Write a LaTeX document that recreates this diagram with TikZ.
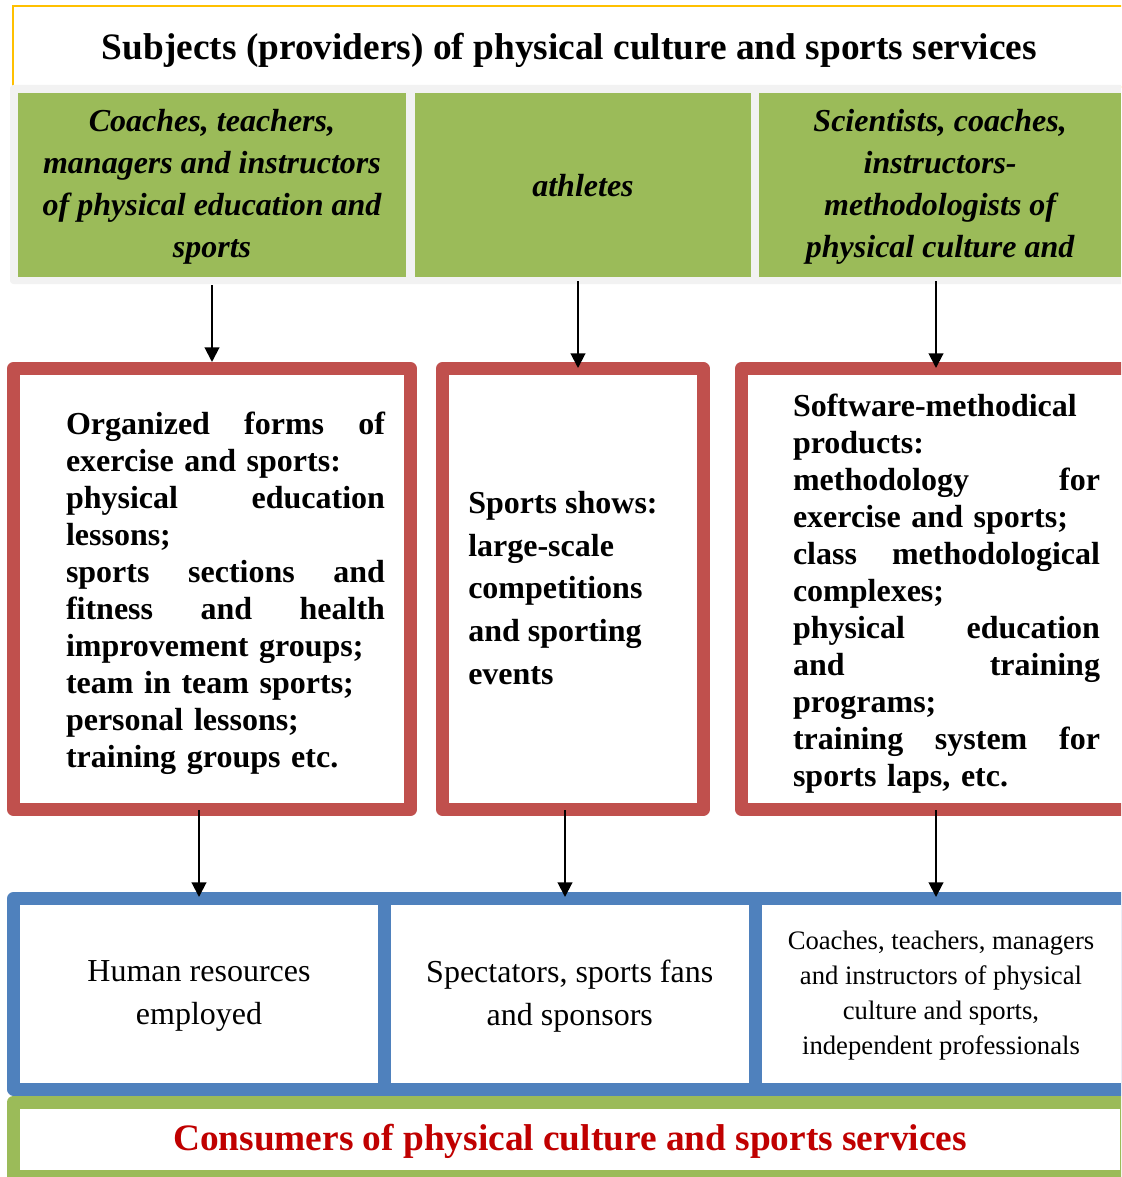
\documentclass[tikz,border=0pt]{standalone}
\usepackage{fontspec}
\setmainfont{Liberation Serif}
\usetikzlibrary{arrows.meta}
\definecolor{titleyellow}{HTML}{FFC000}
\definecolor{bandgrey}{HTML}{F2F2F2}
\definecolor{provgreen}{HTML}{9BBB59}
\definecolor{prodred}{HTML}{C0504D}
\definecolor{consblue}{HTML}{4F81BD}
\definecolor{consred}{HTML}{C00000}
% a line spread to a given width, the gaps between words stretched evenly
\newlength{\jw}
\newcommand{\jl}[1]{\leavevmode\hbox to \jw{\spaceskip=0.25em plus 1fil\relax #1}}
\begin{document}
\begin{tikzpicture}[x=0.75pt,y=-0.75pt,
  titlebox/.style={draw=titleyellow, line width=1.5pt, fill=white, inner sep=0pt,
    font=\fontsize{28}{33}\selectfont\bfseries},
  band/.style={fill=bandgrey, rounded corners=2.5pt, inner sep=0pt},
  greenbox/.style={fill=provgreen, inner sep=0pt, align=center,
    font=\fontsize{24}{31.5}\selectfont\bfseries\itshape},
  redbox/.style={draw=prodred, line width=9.75pt, line join=round, fill=white, inner sep=0pt},
  redtext/.style={inner sep=0pt, align=left, font=\fontsize{24}{27.75}\selectfont\bfseries},
  bluebox/.style={draw=consblue, line width=9.75pt, line join=round, fill=white, inner sep=0pt,
    align=center, font=\fontsize{24}{32.25}\selectfont},
  consbox/.style={draw=provgreen, line width=9.75pt, line join=round, fill=white, inner sep=0pt,
    text=consred, font=\fontsize{28}{33}\selectfont\bfseries},
  arr/.style={line width=1.5pt, -{Triangle[width=11pt,length=11pt]}},
]
\clip (0,0) rectangle (1121,1177);

% providers
\node[titlebox, minimum width=1113*0.75pt, minimum height=81*0.75pt] (title) at (569.5,47)
  {};
\node[inner sep=0pt, font=\fontsize{28}{33}\selectfont\bfseries] (titletext) at (569.5,50)
  {Subjects (providers) of physical culture and sports services};
\node[band, minimum width=1119*0.75pt, minimum height=199*0.75pt] (band) at (569.5,184.5) {};
\node[greenbox, minimum width=388.3*0.75pt, minimum height=184*0.75pt] (g1) at (211.85,184.7) {};
\node[greenbox, minimum width=336*0.75pt, minimum height=184*0.75pt] (g2) at (583,184.7) {};
\node[greenbox, minimum width=361.7*0.75pt, minimum height=184*0.75pt] (g3) at (940.15,184.7) {};
\node[greenbox, fill=none] (g1t) at (212,186.7)
  {Coaches, teachers,\\ managers and instructors\\ of physical education and\\ sports};
\node[greenbox, fill=none] (g2t) at (583,186)
  {athletes};
\node[greenbox, fill=none] (g3t) at (940.15,186.7)
  {Scientists, coaches,\\ instructors-\\ methodologists of\\ physical culture and};

% products
\node[redbox, minimum width=397*0.75pt, minimum height=441*0.75pt] (r1) at (212,589) {};
\node[redbox, minimum width=260.5*0.75pt, minimum height=441*0.75pt] (r2) at (572.75,589) {};
\node[redbox, minimum width=393.3*0.75pt, minimum height=441*0.75pt] (r3) at (938.35,589) {};

\node[redtext, text width=319*0.75pt] (r1t) at (225.5,593.5)
  {\setlength{\jw}{239.25pt}%
   \jl{Organized forms of}\\ exercise and sports:\\ \jl{physical education}\\ lessons;\\
   \jl{sports sections and}\\ \jl{fitness and health}\\ improvement groups;\\
   team in team sports;\\ personal lessons;\\ training groups etc.};
\node[redtext, anchor=west, font=\fontsize{24}{32}\selectfont\bfseries] (r2t) at (468,588)
  {Sports shows:\\ large-scale\\ competitions\\ and sporting\\ events};
\node[redtext, text width=307*0.75pt] (r3t) at (946.5,594)
  {\setlength{\jw}{230.25pt}%
   Software-methodical\\ products:\\ \jl{methodology for}\\ exercise and sports;\\
   \jl{class methodological}\\ complexes;\\ \jl{physical education}\\ \jl{and training}\\
   programs;\\ \jl{training system for}\\ sports laps, etc.};

% consumers
\node[bluebox, minimum width=371*0.75pt, minimum height=190.5*0.75pt] (b1) at (199,993.75) {};
\node[bluebox, minimum width=370.5*0.75pt, minimum height=190.5*0.75pt] (b2) at (569.75,993.75) {};
\node[bluebox, minimum width=372*0.75pt, minimum height=190.5*0.75pt] (b3) at (941,993.75) {};
\node[align=center, inner sep=0pt, font=\fontsize{24}{32.25}\selectfont] (b1t) at (199,996.25)
  {Human resources\\ employed};
\node[align=center, inner sep=0pt, font=\fontsize{24}{32.25}\selectfont] (b2t) at (569.75,996.25)
  {Spectators, sports fans\\ and sponsors};
\node[align=center, inner sep=0pt, font=\fontsize{20}{26.25}\selectfont] (b3t) at (941,995.75)
  {Coaches, teachers, managers\\ and instructors of physical\\ culture and sports,\\ independent professionals};
\node[consbox, minimum width=1113*0.75pt, minimum height=74.5*0.75pt] (cons) at (570,1139.25) {};
\node[inner sep=0pt, text=consred, font=\fontsize{28}{33}\selectfont\bfseries] (constext) at (570,1141.25)
  {Consumers of physical culture and sports services};

% arrows
\coordinate (s1) at (212,285);
\coordinate (s2) at (578,281);
\coordinate (s3) at (936,281);
\draw[arr] (s1) -- (s1 |- r1.north);
\draw[arr, shorten >=-4.5pt] (s2) -- (s2 |- r2.north);
\draw[arr, shorten >=-4.5pt] (s3) -- (s3 |- r3.north);

\coordinate (d1) at (199,810);
\coordinate (d2) at (565,810);
\coordinate (d3) at (936,810);
\draw[arr, shorten >=-3.75pt] (d1) -- (d1 |- b1.north);
\draw[arr, shorten >=-3.75pt] (d2) -- (d2 |- b2.north);
\draw[arr, shorten >=-3.75pt] (d3) -- (d3 |- b3.north);
\end{tikzpicture}
\end{document}
